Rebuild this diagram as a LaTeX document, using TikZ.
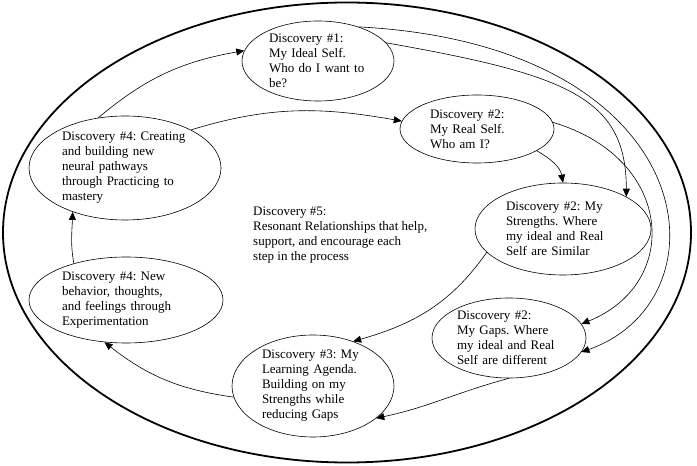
\documentclass[tikz,border=0pt]{standalone}
\usepackage{fontspec}
\setmainfont{Liberation Serif}
\usepackage{tikz}
\usetikzlibrary{shapes.geometric,arrows.meta}
\frenchspacing
\tikzset{
  % Discovery ellipse (size given per node)
  disc/.style={ellipse, draw=black, line width=0.6pt, inner sep=0pt},
  % Text set inside a discovery ellipse
  disctext/.style={align=left, inner sep=0pt,
                   font=\fontsize{13}{15}\selectfont},
  % Outer ring round the whole cycle
  ring/.style={draw=black, line width=1.8pt},
  % Arrows
  arr/.style={-{Triangle[length=8pt,width=7pt]}, line width=0.6pt},
}

\begin{document}
\begin{tikzpicture}[x=1pt,y=1pt]
    \useasboundingbox (0,0) rectangle (697,466);

    % ── Outer ring ─────────────────────────────────────────
    \draw[ring] (347,233.5) ellipse [x radius=344, y radius=230];

    % ── Discovery #1 ───────────────────────────────────────
    \node[disc, minimum width=152pt, minimum height=80pt] (ideal) at (318,405) {};
    \node[disctext, text width=98pt] (ideal-t) at (ideal)
          {Discovery \#1:\\My Ideal Self.\\Who do I want to\\be?};

    % ── Discovery #2 (three views) ─────────────────────────
    \node[disc, minimum width=154pt, minimum height=68pt] (real) at (477,337) {};
    \node[disctext, text width=94pt] (real-t) at (real)
          {Discovery \#2:\\My Real Self.\\Who am I?};
    \node[disc, minimum width=176pt, minimum height=92pt] (strengths) at (563,237) {};
    \node[disctext, text width=114pt] (strengths-t) at (strengths)
          {Discovery \#2: My\\Strengths. Where\\my ideal and Real\\Self are Similar};
    \node[disc, minimum width=154pt, minimum height=80pt] (gaps) at (509,128) {};
    \node[disctext, text width=104pt] (gaps-t) at (gaps)
          {Discovery \#2:\\My Gaps. Where\\my ideal and Real\\Self are different};

    % ── Discovery #3 ───────────────────────────────────────
    \node[disc, minimum width=162pt, minimum height=102pt] (agenda) at (313,80) {};
    \node[disctext, text width=102pt] (agenda-t) at (agenda)
          {Discovery \#3: My\\Learning Agenda.\\Building on my\\Strengths while\\reducing Gaps};

    % ── Discovery #4 (two views) ───────────────────────────
    \node[disc, minimum width=194pt, minimum height=86pt] (experiment) at (126,166) {};
    \node[disctext, text width=128pt] (experiment-t) at (experiment)
          {Discovery \#4: New\\behavior, thoughts,\\and feelings through\\Experimentation};
    \node[disc, minimum width=192pt, minimum height=104pt] (creating) at (125,298) {};
    \node[disctext, text width=126pt] (creating-t) at (creating)
          {Discovery \#4: Creating\\and building new\\neural pathways\\through Practicing to\\mastery};

    % ── Discovery #5 in the middle ─────────────────────────
    \node[disctext, anchor=west] (resonant) at (253,231)
          {Discovery \#5:\\Resonant Relationships that help,\\support, and encourage each\\step in the process};

    % ── Arrows round the cycle ─────────────────────────────
    \draw[arr] (creating.118) to[out=40,in=190] (ideal.172);
    \draw[arr] (creating.30) to[out=17,in=170] (real.174);
    \draw[arr] (real.-20) to[out=-30,in=100] (strengths.north);
    \draw[arr] (ideal.15) .. controls +(180,-32) and +(0,100) .. (strengths.27);
    \draw[arr] (ideal.40) .. controls +(345,-18) and +(150,53) .. (gaps.-11);
    \draw[arr] (real.5) .. controls +(122,-36) and +(100,40) .. (gaps.11);
    \draw[arr] (strengths.197) to[out=235,in=16] (agenda.48);
    \draw[arr] (gaps.south) to[out=195,in=12] (agenda.-27);
    \draw[arr] (agenda.188) to[out=172,in=-38] (experiment.243);
    \draw[arr] (experiment.145) to[out=100,in=-92] (creating.220);

\end{tikzpicture}
\end{document}
